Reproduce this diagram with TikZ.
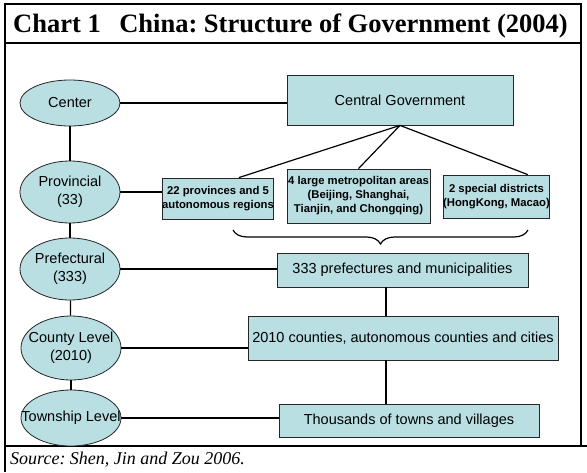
\documentclass[tikz,border=0pt]{standalone}
\usepackage{fontspec}
\setmainfont{Liberation Serif}
\setsansfont{Liberation Sans}
\usetikzlibrary{shapes.geometric,decorations.pathreplacing}

\definecolor{govfill}{RGB}{185,223,227}

% zero-width line, so the text does not widen the ellipse
\newcommand{\zw}[1]{\makebox[0pt]{#1}}

\tikzset{
  level/.style={ellipse, draw=black!85, fill=govfill, line width=0.8pt,
    inner sep=0pt, align=center, minimum width=100pt,
    font=\sffamily\fontsize{14.5}{18}\selectfont},
  unit/.style={rectangle, draw=black!85, fill=govfill, line width=0.8pt,
    inner sep=0pt, align=center,
    font=\sffamily\fontsize{14.5}{18}\selectfont},
  subunit/.style={unit, font=\sffamily\bfseries\fontsize{11.3}{14}\selectfont},
  link/.style={line width=1.2pt},
  frame/.style={line width=1.6pt},
}

\begin{document}
\frenchspacing
\begin{tikzpicture}[x=1pt,y=-1pt]
  \useasboundingbox (0,0) rectangle (587,472);
  % outer frame and rules
  \draw[frame] (5,472) -- (5,4) -- (581,4) -- (581,446);
  \draw[frame] (5,43) -- (581,43);
  \draw[frame] (5,446) -- (587,446);
  % heading and source
  \node[anchor=base west, inner sep=0pt,
    font=\bfseries\fontsize{26.5}{30}\selectfont] (title) at (13,32)
    {Chart 1\hspace{0.7em}China: Structure of Government (2004)};
  \node[anchor=base west, inner sep=0pt,
    font=\itshape\fontsize{18}{20}\selectfont] (source) at (10,464)
    {Source: Shen, Jin and Zou 2006.};

  % levels
  \node[level, minimum height=46pt] (center) at (70,103) {\zw{Center}};
  \node[level, minimum height=62pt] (provin) at (70,192) {\zw{Provincial}\\\zw{(33)}};
  \node[level, minimum height=62pt] (prefec) at (70,269) {\zw{Prefectural}\\\zw{(333)}};
  \node[level, minimum height=64pt] (county) at (71,348) {\zw{County Level}\\\zw{(2010)}};
  \node[level, minimum height=56pt] (townsh) at (71,418) {\zw{Township Level}};

  % units
  \node[unit, minimum width=226pt, minimum height=50pt] (gov) at (400,100) {Central Government};
  \node[subunit, minimum width=110pt, minimum height=41pt] (prov) at (218,198.5)
    {22 provinces and 5\\autonomous regions};
  \node[subunit, minimum width=143pt, minimum height=54pt] (metro) at (358.5,196)
    {4 large metropolitan areas\\(Beijing, Shanghai,\\Tianjin, and Chongqing)};
  \node[subunit, minimum width=103pt, minimum height=43pt] (dist) at (496.5,196.5)
    {2 special districts\\(HongKong, Macao)};
  \node[unit, minimum width=251pt, minimum height=34pt] (pref) at (402.5,270)
    {333 prefectures and municipalities};
  \node[unit, minimum width=310pt, minimum height=44pt] (cnty) at (403,338)
    {2010 counties, autonomous counties and cities};
  \node[unit, minimum width=260pt, minimum height=33pt] (town) at (409,420.5)
    {Thousands of towns and villages};

  % level chain
  \draw[link] (center) -- (provin);
  \draw[link] (provin) -- (prefec);
  \draw[link] (prefec) -- (county);
  \draw[link] (county) -- (townsh);

  % level to unit
  \draw[link] (center.east) -- (center.east -| gov.west);
  \draw[link] (provin.east) -- (provin.east -| prov.west);
  \draw[link] (prefec.east) -- (prefec.east -| pref.west);
  \draw[link] (county.east) -- (county.east -| cnty.west);
  \draw[link] (townsh.east) -- (townsh.east -| town.west);

  % central government splits three ways
  \draw[link] (gov.south) -- (prov.45);
  \draw[link] (gov.south) -- (metro.north);
  \draw[link] (gov.south) -- (dist.35);

  % brace joining the three into the prefectures
  \coordinate (braceL) at (233,230);
  \coordinate (braceR) at (528,230);
  \draw[link, decorate, decoration={brace, amplitude=14pt, mirror}] (braceL) -- (braceR);

  % spine down to the towns
  \coordinate (spine) at (386,0);
  \draw[link] (pref.south -| spine) -- (cnty.north -| spine);
  \draw[link] (cnty.south -| spine) -- (town.north -| spine);
\end{tikzpicture}
\end{document}
